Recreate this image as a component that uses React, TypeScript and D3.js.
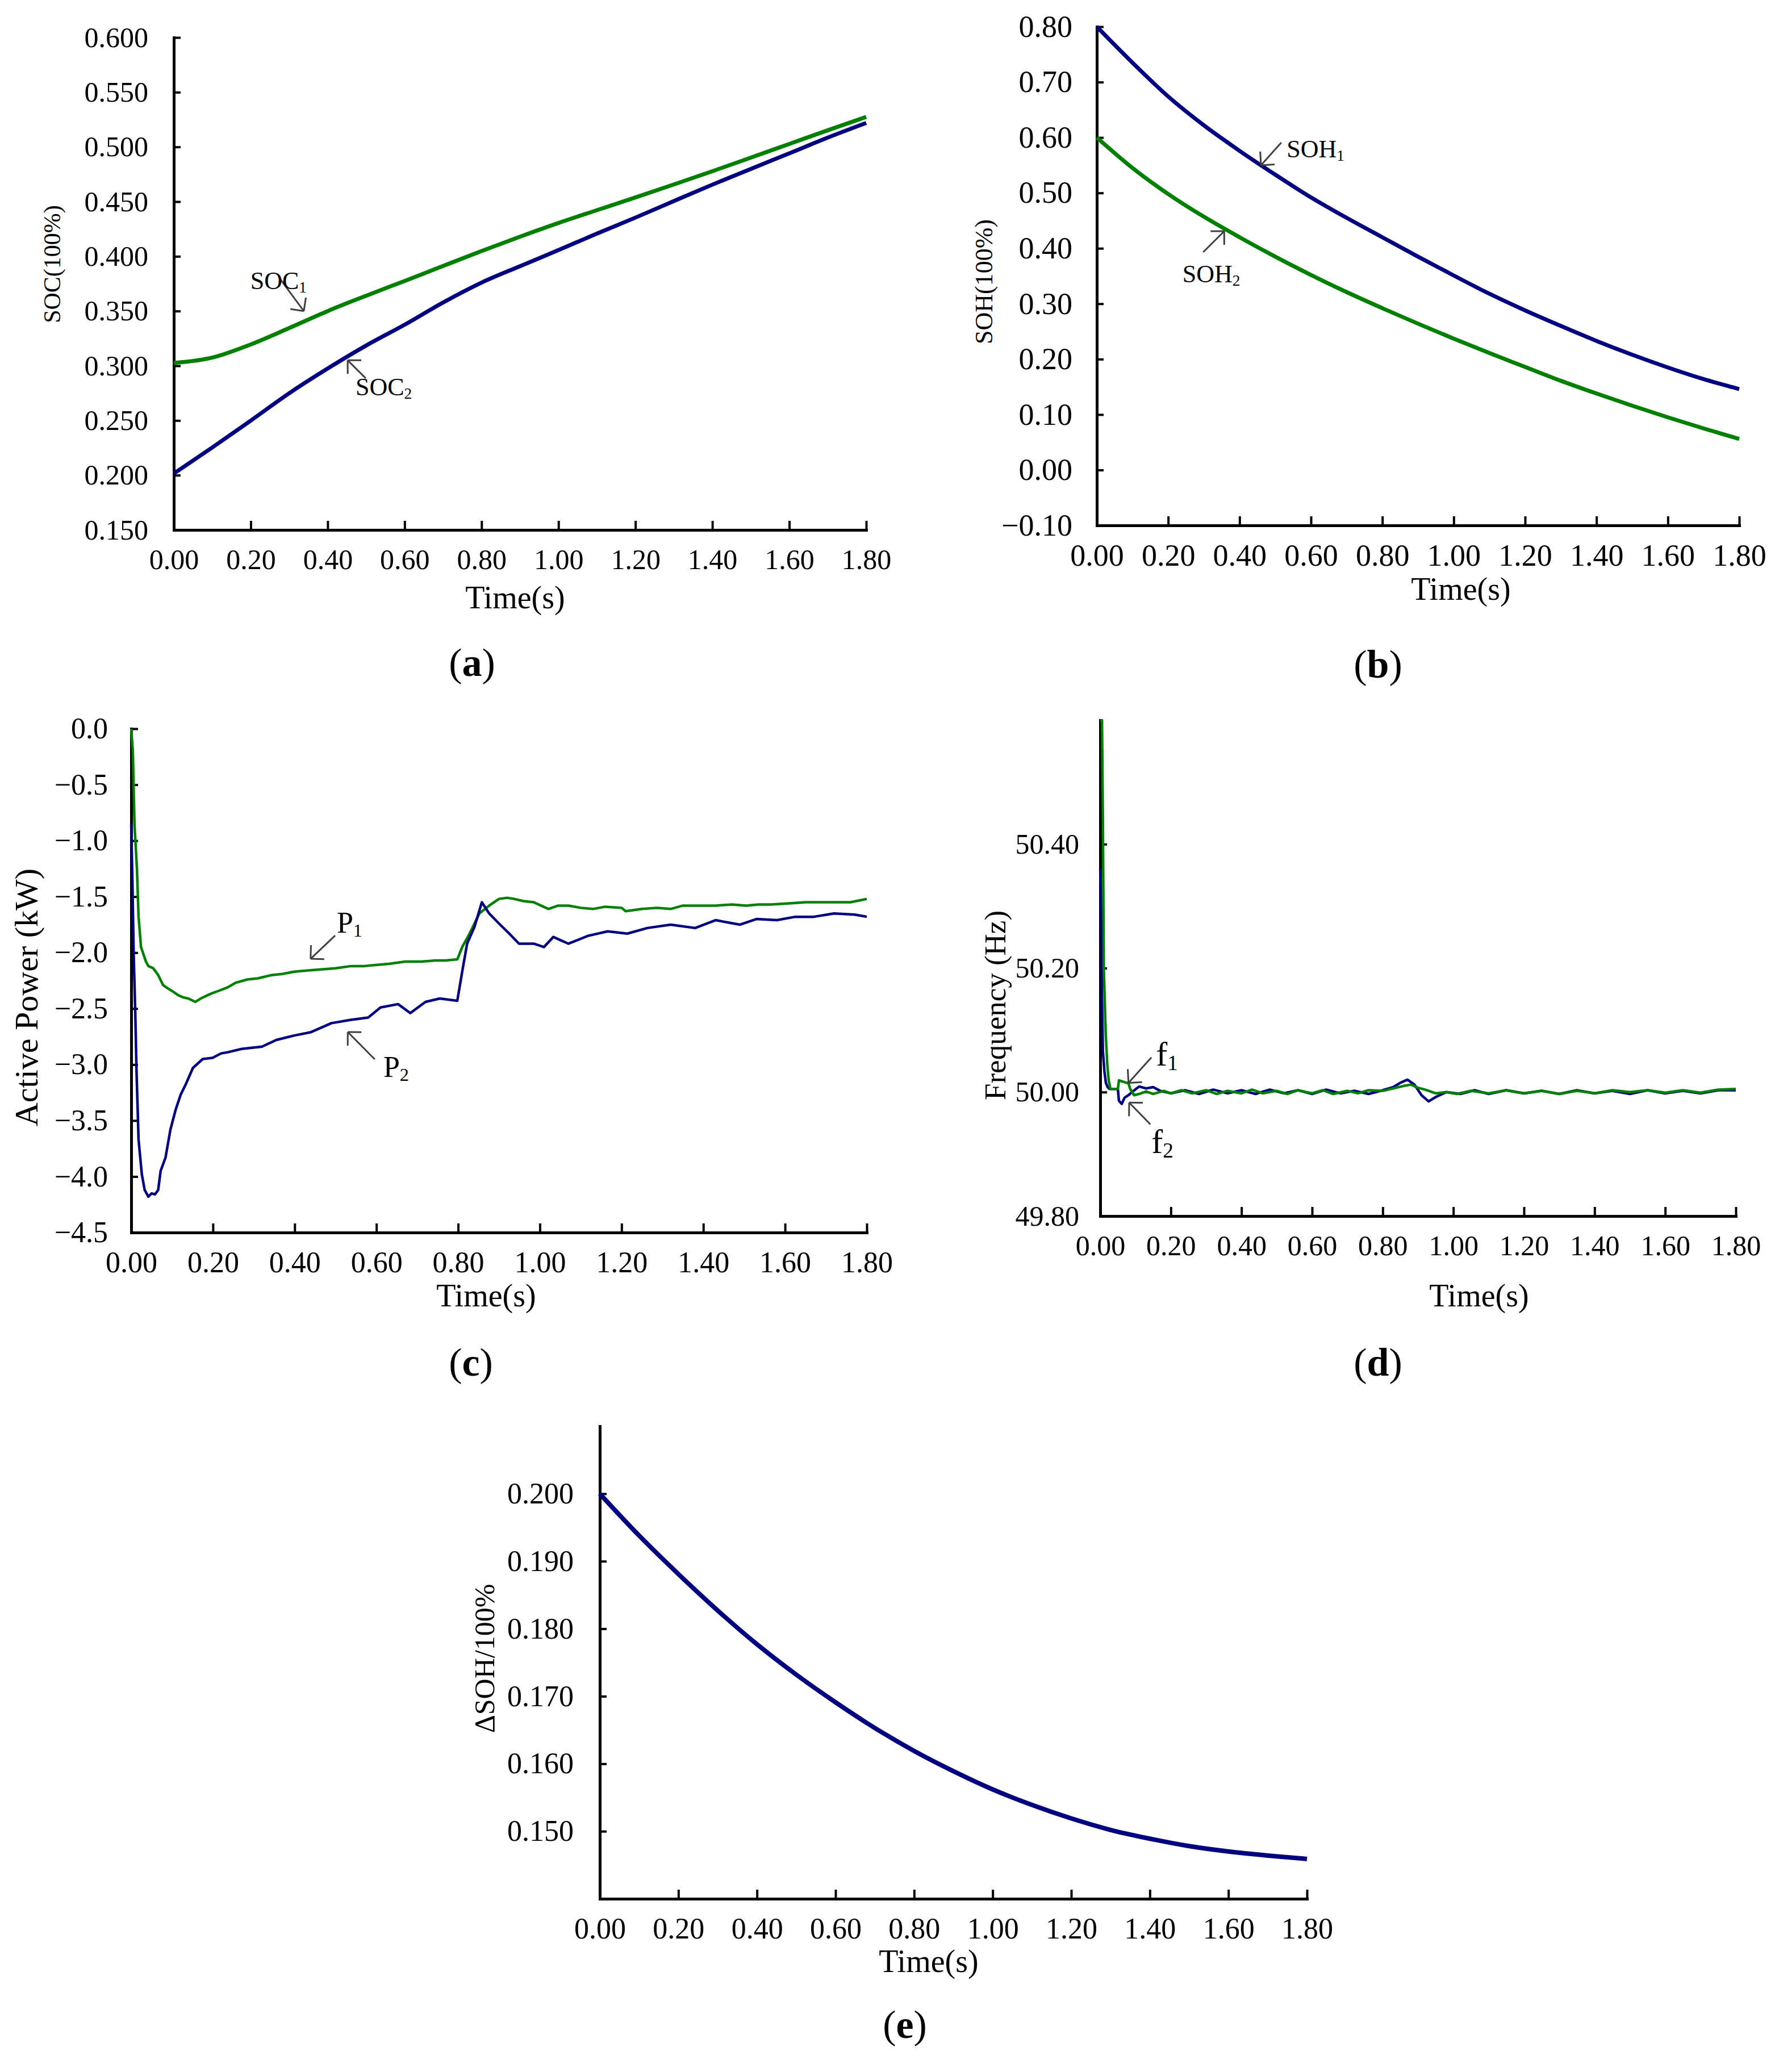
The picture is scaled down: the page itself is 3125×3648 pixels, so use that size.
import React, { useRef, useEffect } from 'react';
import * as d3 from 'd3';

const FONT = "'Liberation Serif', 'Times New Roman', serif";
const BLUE = '#000080';
const GREEN = '#008000';
const ARROW = '#404040';

// shared time axis
const timeTicks = [0, 0.2, 0.4, 0.6, 0.8, 1.0, 1.2, 1.4, 1.6, 1.8];
const sampleTimes = [0, 0.1, 0.2, 0.3, 0.4, 0.5, 0.6, 0.7, 0.8, 0.9, 1.0, 1.1, 1.2, 1.3, 1.4, 1.5, 1.6, 1.7, 1.8];

// (a) SOC
const soc1 = [0.3026, 0.3075, 0.3195, 0.3345, 0.35, 0.364, 0.3775, 0.3912, 0.4048, 0.418, 0.4305, 0.4422, 0.4538, 0.4657, 0.4778, 0.4902, 0.5027, 0.5152, 0.5274];
const soc2 = [0.2015, 0.2253, 0.2499, 0.2749, 0.2975, 0.3185, 0.3375, 0.3578, 0.376, 0.391, 0.4057, 0.4208, 0.4354, 0.4505, 0.4655, 0.4799, 0.4941, 0.5085, 0.5219];
const socTicks = [0.15, 0.2, 0.25, 0.3, 0.35, 0.4, 0.45, 0.5, 0.55, 0.6];

// (b) SOH
const soh1 = [0.8, 0.735, 0.674, 0.622, 0.576, 0.533, 0.492, 0.455, 0.42, 0.385, 0.351, 0.318, 0.288, 0.26, 0.233, 0.208, 0.185, 0.164, 0.146];
const soh2 = [0.6, 0.545, 0.498, 0.457, 0.42, 0.385, 0.352, 0.321, 0.292, 0.264, 0.237, 0.211, 0.186, 0.161, 0.138, 0.116, 0.095, 0.075, 0.056];
const sohTicks = [-0.1, 0, 0.1, 0.2, 0.3, 0.4, 0.5, 0.6, 0.7, 0.8];

// (c) active power, [time, kW]
const power1: [number, number][] = [
  [0, 0.0], [0.004, -0.2], [0.008, -0.85], [0.014, -1.25], [0.018, -1.68], [0.024, -1.95], [0.036, -2.08],
  [0.042, -2.12], [0.054, -2.14], [0.066, -2.2], [0.078, -2.29], [0.09, -2.32], [0.103, -2.35], [0.115, -2.38],
  [0.127, -2.4], [0.14, -2.41], [0.157, -2.44], [0.17, -2.41], [0.187, -2.38], [0.2, -2.36], [0.215, -2.34],
  [0.236, -2.31], [0.255, -2.27], [0.284, -2.24], [0.31, -2.23], [0.344, -2.2], [0.37, -2.19], [0.399, -2.17],
  [0.43, -2.16], [0.465, -2.15], [0.5, -2.14], [0.538, -2.12], [0.57, -2.12], [0.598, -2.11], [0.63, -2.1],
  [0.671, -2.08], [0.71, -2.08], [0.743, -2.07], [0.77, -2.07], [0.798, -2.06], [0.81, -1.95], [0.828, -1.83],
  [0.852, -1.65], [0.876, -1.58], [0.9, -1.52], [0.92, -1.51], [0.937, -1.52], [0.96, -1.54], [0.985, -1.55],
  [1.021, -1.61], [1.045, -1.58], [1.07, -1.58], [1.1, -1.6], [1.13, -1.61], [1.16, -1.59], [1.2, -1.6],
  [1.21, -1.63], [1.25, -1.61], [1.287, -1.6], [1.32, -1.61], [1.35, -1.58], [1.39, -1.58], [1.43, -1.58],
  [1.47, -1.57], [1.505, -1.58], [1.535, -1.57], [1.565, -1.57], [1.61, -1.56], [1.65, -1.55], [1.71, -1.55],
  [1.76, -1.55], [1.8, -1.52],
];
const power2: [number, number][] = [
  [0, -0.85], [0.003, -1.37], [0.006, -2.0], [0.01, -2.54], [0.013, -3.06], [0.018, -3.67], [0.026, -3.98],
  [0.033, -4.12], [0.042, -4.18], [0.05, -4.15], [0.058, -4.16], [0.066, -4.12], [0.072, -3.95], [0.084, -3.83],
  [0.096, -3.58], [0.109, -3.4], [0.121, -3.27], [0.133, -3.18], [0.151, -3.03], [0.175, -2.95], [0.199, -2.94],
  [0.22, -2.9], [0.236, -2.89], [0.27, -2.86], [0.32, -2.84], [0.355, -2.78], [0.399, -2.74], [0.44, -2.71],
  [0.49, -2.63], [0.538, -2.6], [0.58, -2.58], [0.61, -2.49], [0.653, -2.46], [0.683, -2.54], [0.72, -2.44],
  [0.755, -2.41], [0.798, -2.43], [0.81, -2.17], [0.822, -1.92], [0.84, -1.77], [0.858, -1.55], [0.876, -1.65],
  [0.9, -1.74], [0.925, -1.83], [0.949, -1.92], [0.985, -1.92], [1.01, -1.95], [1.033, -1.86], [1.07, -1.92],
  [1.118, -1.85], [1.166, -1.81], [1.214, -1.83], [1.263, -1.78], [1.32, -1.75], [1.38, -1.78], [1.43, -1.71],
  [1.49, -1.75], [1.53, -1.7], [1.58, -1.71], [1.625, -1.68], [1.67, -1.68], [1.72, -1.65], [1.77, -1.66],
  [1.8, -1.68],
];
const powerTicks = [-4.5, -4, -3.5, -3, -2.5, -2, -1.5, -1, -0.5, 0];

// (d) frequency, [time, Hz]
const freq1: [number, number][] = [
  [0, 50.6], [0.005, 50.6], [0.0076, 50.44], [0.0102, 50.2], [0.0156, 50.094], [0.02, 50.045], [0.024, 50.019],
  [0.029, 50.005], [0.05, 50.005], [0.053, 50.019], [0.08, 50.014], [0.085, 50.005], [0.096, 49.995], [0.11, 49.997],
  [0.13, 50.001], [0.15, 49.997], [0.18, 50.002], [0.2, 49.998], [0.23, 50.003], [0.26, 49.998], [0.3, 50.003],
  [0.33, 49.997], [0.36, 50.002], [0.4, 49.998], [0.43, 50.004], [0.46, 49.998], [0.5, 50.002], [0.53, 49.997],
  [0.56, 50.003], [0.6, 49.998], [0.63, 50.003], [0.66, 49.997], [0.7, 50.002], [0.73, 49.998], [0.76, 50.003],
  [0.8, 50.002], [0.83, 50.006], [0.86, 50.01], [0.88, 50.012], [0.9, 50.007], [0.92, 50.004], [0.95, 49.998],
  [0.98, 50.0], [1.01, 49.997], [1.05, 50.002], [1.1, 49.998], [1.15, 50.003], [1.2, 49.998], [1.25, 50.002],
  [1.3, 49.997], [1.35, 50.002], [1.4, 49.998], [1.45, 50.003], [1.5, 50.0], [1.55, 50.003], [1.6, 49.999],
  [1.65, 50.003], [1.7, 49.999], [1.75, 50.004], [1.8, 50.005],
];
const freq2: [number, number][] = [
  [0, 50.36], [0.002, 50.33], [0.005, 50.15], [0.0076, 50.066], [0.012, 50.033], [0.016, 50.015], [0.021, 50.008],
  [0.027, 50.005], [0.05, 50.005], [0.053, 49.986], [0.061, 49.981], [0.069, 49.991], [0.08, 49.995], [0.09, 50.0],
  [0.11, 50.009], [0.13, 50.006], [0.15, 50.008], [0.17, 50.002], [0.2, 49.998], [0.24, 50.003], [0.28, 49.997],
  [0.32, 50.004], [0.36, 49.998], [0.4, 50.003], [0.44, 49.997], [0.48, 50.004], [0.52, 49.998], [0.56, 50.003],
  [0.6, 49.997], [0.64, 50.004], [0.68, 49.998], [0.72, 50.002], [0.76, 49.997], [0.8, 50.003], [0.83, 50.008],
  [0.85, 50.015], [0.87, 50.02], [0.89, 50.012], [0.91, 49.995], [0.93, 49.985], [0.95, 49.992], [0.98, 50.0],
  [1.02, 49.997], [1.06, 50.003], [1.1, 49.997], [1.15, 50.003], [1.2, 49.998], [1.25, 50.002], [1.3, 49.997],
  [1.35, 50.003], [1.4, 49.998], [1.45, 50.002], [1.5, 49.997], [1.55, 50.003], [1.6, 49.998], [1.65, 50.002],
  [1.7, 49.998], [1.75, 50.003], [1.8, 50.003],
];
const freqTicks = [49.8, 50.0, 50.2, 50.4];

// (e) delta SOH
const deltaSoh = [0.2, 0.1938, 0.1881, 0.1827, 0.1777, 0.1732, 0.1691, 0.1653, 0.1619, 0.1589, 0.1562, 0.1539, 0.1519, 0.1502, 0.1489, 0.1478, 0.147, 0.1464, 0.1459];
const deltaSohTicks = [0.15, 0.16, 0.17, 0.18, 0.19, 0.2];

const zip = (ts: number[], vs: number[]) => ts.map((t, i) => [t, vs[i]] as [number, number]);

interface Note { label: string; sub: string; at: [number, number]; from: [number, number]; tip: [number, number] }
interface Series { points: [number, number][]; color: string; width: number; smooth?: boolean }
interface PanelCfg {
  letter: string;
  box: { left: number; right: number; top: number; bottom: number };
  yDomain: [number, number];
  yTicks: number[];
  yFormat: string;
  tickFont: number;
  yPad: number;
  yTitle: string; yTitlePos: [number, number]; yTitleFont: number;
  timePos: [number, number];
  letterPos: [number, number];
  series: Series[];
  notes: Note[];
  noteFont: number;
}

const panels: PanelCfg[] = [
  {
    letter: 'a', box: { left: 306, right: 1525, top: 66, bottom: 933 },
    yDomain: [0.15, 0.6], yTicks: socTicks, yFormat: '.3f', tickFont: 50, yPad: 45,
    yTitle: 'SOC(100%)', yTitlePos: [92, 465], yTitleFont: 42,
    timePos: [907, 1071], letterPos: [831, 1190],
    series: [
      { points: zip(sampleTimes, soc1), color: GREEN, width: 7, smooth: true },
      { points: zip(sampleTimes, soc2), color: BLUE, width: 7, smooth: true },
    ],
    notes: [
      { label: 'SOC', sub: '1', at: [0.199, 0.37], from: [0.275, 0.38], tip: [0.338, 0.35] },
      { label: 'SOC', sub: '2', at: [0.4725, 0.273], from: [0.499, 0.2886], tip: [0.452, 0.305] },
    ],
    noteFont: 44,
  },
  {
    letter: 'b', box: { left: 1931, right: 3062, top: 47, bottom: 925 },
    yDomain: [-0.1, 0.8], yTicks: sohTicks, yFormat: '.2f', tickFont: 54, yPad: 43,
    yTitle: 'SOH(100%)', yTitlePos: [1732, 496], yTitleFont: 44,
    timePos: [2572, 1056], letterPos: [2426, 1193],
    series: [
      { points: zip(sampleTimes, soh1), color: BLUE, width: 7, smooth: true },
      { points: zip(sampleTimes, soh2), color: GREEN, width: 7, smooth: true },
    ],
    notes: [
      { label: 'SOH', sub: '1', at: [0.532, 0.564], from: [0.517, 0.591], tip: [0.46, 0.55] },
      { label: 'SOH', sub: '2', at: [0.24, 0.339], from: [0.298, 0.393], tip: [0.357, 0.431] },
    ],
    noteFont: 44,
  },
  {
    letter: 'c', box: { left: 231, right: 1526, top: 1283, bottom: 2170 },
    yDomain: [-4.5, 0], yTicks: powerTicks, yFormat: '.1f', tickFont: 52, yPad: 41,
    yTitle: 'Active Power (kW)', yTitlePos: [46, 1756], yTitleFont: 58,
    timePos: [856, 2300], letterPos: [829, 2422],
    series: [
      { points: power1, color: GREEN, width: 4.5 },
      { points: power2, color: BLUE, width: 4.5 },
    ],
    notes: [
      { label: 'P', sub: '1', at: [0.503, -1.821], from: [0.499, -1.847], tip: [0.439, -2.055] },
      { label: 'P', sub: '2', at: [0.617, -3.11], from: [0.596, -2.953], tip: [0.53, -2.709] },
    ],
    noteFont: 52,
  },
  {
    letter: 'd', box: { left: 1937, right: 3056, top: 1268, bottom: 2141 },
    yDomain: [49.8, 50.6], yTicks: freqTicks, yFormat: '.2f', tickFont: 50, yPad: 37,
    yTitle: 'Frequency (Hz)', yTitlePos: [1752, 1770], yTitleFont: 53,
    timePos: [2604, 2300], letterPos: [2426, 2422],
    series: [
      { points: freq2, color: BLUE, width: 4.5 },
      { points: freq1, color: GREEN, width: 4.5 },
    ],
    notes: [
      { label: 'f', sub: '1', at: [0.158, 50.043], from: [0.145, 50.056], tip: [0.08, 50.015] },
      { label: 'f', sub: '2', at: [0.145, 49.902], from: [0.142, 49.948], tip: [0.082, 49.983] },
    ],
    noteFont: 60,
  },
  {
    letter: 'e', box: { left: 1056, right: 2301, top: 2511, bottom: 3343 },
    yDomain: [0.14, 0.21], yTicks: deltaSohTicks, yFormat: '.3f', tickFont: 52, yPad: 46,
    yTitle: 'ΔSOH/100%', yTitlePos: [853, 2920], yTitleFont: 50,
    timePos: [1635, 3472], letterPos: [1593, 3588],
    series: [{ points: zip(sampleTimes, deltaSoh), color: BLUE, width: 8, smooth: true }],
    notes: [],
    noteFont: 44,
  },
];

function drawPanel(root: d3.Selection<SVGSVGElement, unknown, null, undefined>, cfg: PanelCfg) {
  const { left, right, top, bottom } = cfg.box;
  const x = d3.scaleLinear().domain([0, 1.8]).range([left, right]);
  const y = d3.scaleLinear().domain(cfg.yDomain).range([bottom, top]);
  const g = root.append('g').attr('font-family', FONT);

  // axes, ticks pointing inward
  const yAxis = d3.axisLeft(y)
    .tickValues(cfg.yTicks)
    .tickFormat(d3.format(cfg.yFormat) as any)
    .tickSizeInner(-12)
    .tickSizeOuter(0)
    .tickPadding(cfg.yPad);
  const yG = g.append('g').attr('transform', `translate(${left},0)`).call(yAxis);

  const xAxis = d3.axisBottom(x)
    .tickValues(timeTicks)
    .tickFormat(d3.format('.2f') as any)
    .tickSizeInner(-16)
    .tickSizeOuter(0)
    .tickPadding(33);
  const xG = g.append('g').attr('transform', `translate(0,${bottom})`).call(xAxis);

  [yG, xG].forEach((ax) => {
    ax.attr('font-family', FONT).attr('font-size', cfg.tickFont);
    ax.select('path.domain').attr('stroke', '#000').attr('stroke-width', 5).attr('stroke-linecap', 'square');
    ax.selectAll('.tick line').attr('stroke', '#000').attr('stroke-width', 4);
    ax.selectAll('.tick text').attr('fill', '#000');
  });

  // data lines
  cfg.series.forEach((s) => {
    const line = d3.line<[number, number]>()
      .x((d) => x(d[0]))
      .y((d) => y(d[1]))
      .curve(s.smooth ? d3.curveMonotoneX : d3.curveLinear);
    g.append('path')
      .datum(s.points)
      .attr('fill', 'none')
      .attr('stroke', s.color)
      .attr('stroke-width', s.width)
      .attr('stroke-linejoin', 'round')
      .attr('d', line);
  });

  // annotations with open arrow heads
  cfg.notes.forEach((n) => {
    const fx = x(n.from[0]), fy = y(n.from[1]);
    const tx = x(n.tip[0]), ty = y(n.tip[1]);
    g.append('line')
      .attr('x1', fx).attr('y1', fy).attr('x2', tx).attr('y2', ty)
      .attr('stroke', ARROW).attr('stroke-width', 3);
    const len = Math.hypot(tx - fx, ty - fy);
    const ux = (fx - tx) / len, uy = (fy - ty) / len;
    [Math.PI / 4, -Math.PI / 4].forEach((a) => {
      const wx = ux * Math.cos(a) - uy * Math.sin(a);
      const wy = ux * Math.sin(a) + uy * Math.cos(a);
      g.append('line')
        .attr('x1', tx).attr('y1', ty)
        .attr('x2', tx + wx * 24).attr('y2', ty + wy * 24)
        .attr('stroke', ARROW).attr('stroke-width', 3);
    });
    const t = g.append('text')
      .attr('x', x(n.at[0])).attr('y', y(n.at[1]))
      .attr('font-size', cfg.noteFont)
      .attr('fill', '#000');
    t.append('tspan').text(n.label);
    t.append('tspan').attr('font-size', cfg.noteFont * 0.62).attr('dy', cfg.noteFont * 0.14).text(n.sub);
  });

  // titles
  const [yx, yy] = cfg.yTitlePos;
  g.append('text')
    .attr('transform', `translate(${yx},${yy}) rotate(-90)`)
    .attr('text-anchor', 'middle')
    .attr('dominant-baseline', 'central')
    .attr('font-size', cfg.yTitleFont)
    .text(cfg.yTitle);

  g.append('text')
    .attr('x', cfg.timePos[0]).attr('y', cfg.timePos[1])
    .attr('text-anchor', 'middle')
    .attr('font-size', 56)
    .text('Time(s)');

  const lab = g.append('text')
    .attr('x', cfg.letterPos[0]).attr('y', cfg.letterPos[1])
    .attr('text-anchor', 'middle')
    .attr('font-size', 70);
  lab.append('tspan').text('(');
  lab.append('tspan').attr('font-weight', 'bold').text(cfg.letter);
  lab.append('tspan').text(')');
}

export default function App() {
  const svgRef = useRef<SVGSVGElement>(null);

  useEffect(() => {
    document.body.style.margin = '0';
    if (!svgRef.current) return;
    const svg = d3.select(svgRef.current);
    svg.selectAll('*').remove();
    svg.append('rect').attr('width', 3125).attr('height', 3648).attr('fill', '#fff');
    panels.forEach((p) => drawPanel(svg, p));
  }, []);

  return <svg ref={svgRef} width={3125} height={3648} style={{ display: 'block' }} />;
}
